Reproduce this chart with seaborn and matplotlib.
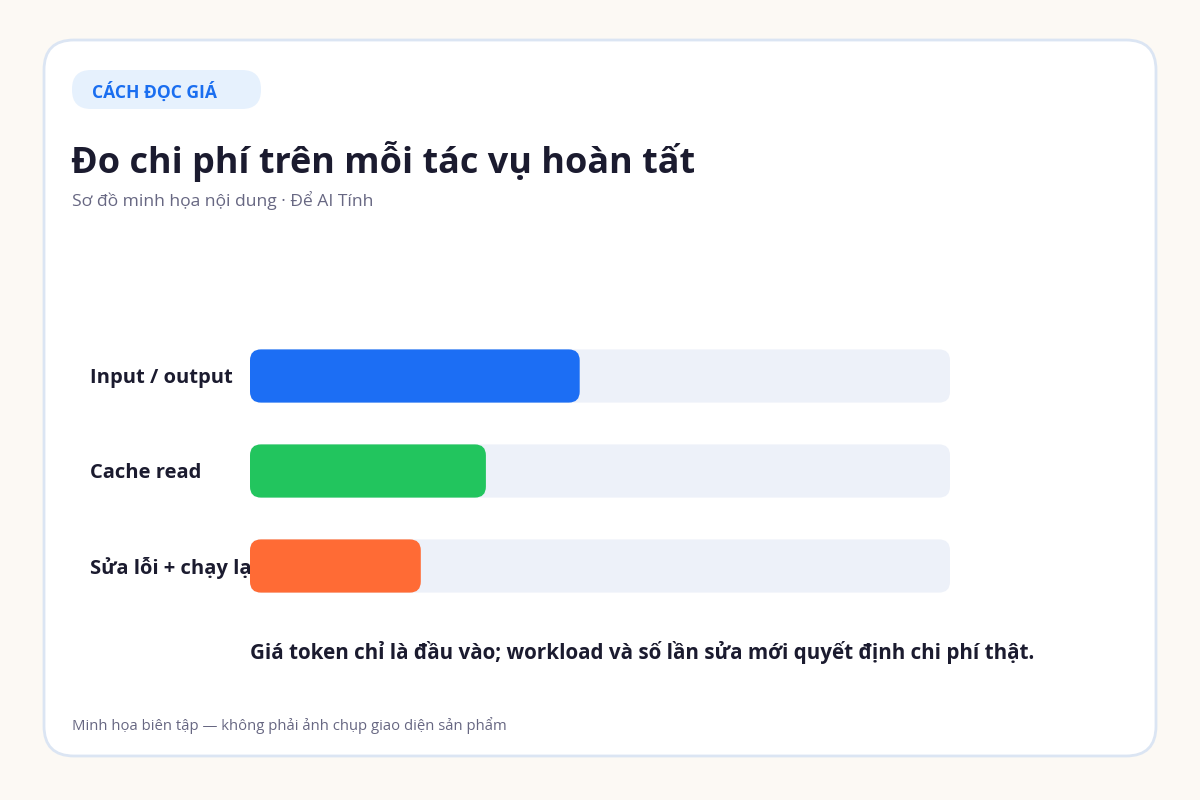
import matplotlib
matplotlib.use("Agg")
import matplotlib.pyplot as plt
from matplotlib.patches import FancyBboxPatch
import seaborn as sns
import pandas as pd

# dữ liệu
categories = ["Input / output", "Cache read", "Sửa lỗi + chạy lại"]
values = [47.1, 33.7, 24.4]
track_max = 100
bar_colors = ["#1c6ef4", "#22c55e", "#ff6b35"]

badge_text = "CÁCH ĐỌC GIÁ"
title = "Đo chi phí trên mỗi tác vụ hoàn tất"
subtitle = "Sơ đồ minh họa nội dung · Để AI Tính"
note = "Giá token chỉ là đầu vào; workload và số lần sửa mới quyết định chi phí thật."
footer = "Minh họa biên tập — không phải ảnh chụp giao diện sản phẩm"

BG = "#fcf9f4"
INK = "#1b1b2f"
MUTED = "#676782"
TRACK = "#edf1f9"

sns.set_theme(style="white")
plt.rcParams["font.family"] = ["Open Sans", "DejaVu Sans"]

fig = plt.figure(figsize=(12, 8), dpi=100)
fig.patch.set_facecolor(BG)

# lớp nền: thẻ trắng + badge, toạ độ pixel
bg = fig.add_axes([0, 0, 1, 1])
bg.set_xlim(0, 1200)
bg.set_ylim(800, 0)
bg.axis("off")
bg.add_patch(FancyBboxPatch((44, 40), 1112, 716, boxstyle="round,pad=0,rounding_size=30",
                            fc="white", ec="#dbe5f3", lw=2))
bg.add_patch(FancyBboxPatch((72, 70), 189, 39, boxstyle="round,pad=0,rounding_size=19",
                            fc="#e6f1fd", ec="none"))
bg.text(92, 92, badge_text, fontsize=12.6, fontweight="bold", color="#1a6ef0", va="center")
bg.text(71, 162, title, fontsize=25.9, fontweight="bold", color=INK, va="center")
bg.text(72, 201, subtitle, fontsize=12.6, color=MUTED, va="center")
bg.text(250, 652, note, fontsize=14.9, fontweight="bold", color=INK, va="center")
bg.text(72, 725, footer, fontsize=10.7, color=MUTED, va="center")

# biểu đồ thanh
df = pd.DataFrame({"category": categories, "value": values, "track": [track_max] * len(categories)})

ax = fig.add_axes([250 / 1200, 1 - 613.5 / 800, 700 / 1200, 285 / 800])
ax.set_facecolor("none")
sns.barplot(data=df, x="track", y="category", color=TRACK, width=0.56, ax=ax, saturation=1)
sns.barplot(data=df, x="value", y="category", hue="category", palette=bar_colors,
            width=0.56, ax=ax, legend=False, saturation=1)
ax.set_xlim(0, track_max)
ax.set_ylim(len(categories) - 0.5, -0.5)

# bo góc các thanh
px_x = 700 / track_max
px_y = 285 / len(categories)
r = 11
for p in list(ax.patches):
    x0, y0 = p.get_x(), p.get_y()
    w, h = p.get_width(), p.get_height()
    fc = p.get_facecolor()
    p.remove()
    ax.add_patch(FancyBboxPatch((x0, y0), w, h,
                                boxstyle=f"round,pad=0,rounding_size={r / px_x}",
                                mutation_aspect=px_x / px_y,
                                fc=fc, ec="none", zorder=2))

for i, c in enumerate(categories):
    ax.text(-160 / 700, i + 0.02, c, transform=ax.get_yaxis_transform(), fontsize=14.5,
            fontweight="bold", color=INK, va="center", ha="left", zorder=1, clip_on=False)

ax.set_xlabel("")
ax.set_ylabel("")
ax.set_xticks([])
ax.set_yticks([])
sns.despine(ax=ax, left=True, bottom=True)

fig.savefig("out.png", dpi=100, facecolor=BG)
